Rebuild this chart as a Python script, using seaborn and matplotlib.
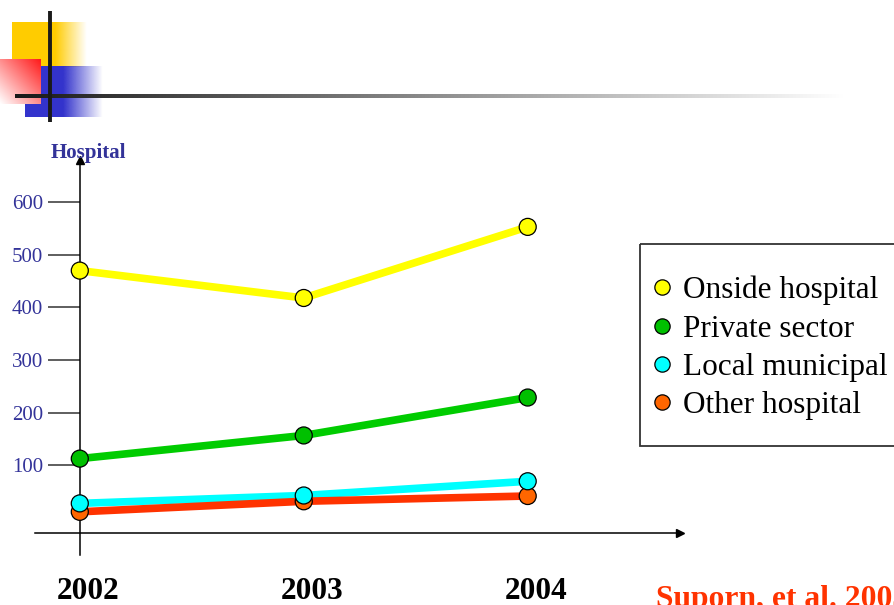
import numpy as np
import pandas as pd
import seaborn as sns
import matplotlib.pyplot as plt
import matplotlib.transforms as mtransforms
from matplotlib.lines import Line2D
from matplotlib.patches import Rectangle
import matplotlib.colors as mcolors

# data
years = [2002, 2003, 2004]
onside = [470, 418, 553]
private = [113, 157, 229]
local = [28, 43, 70]
other = [12, 32, 42]
series = ['Onside hospital', 'Private sector', 'Local municipal', 'Other hospital']
y_ticks = [100, 200, 300, 400, 500, 600]
citation = 'Suporn, et al. 2005'

line_colors = dict(zip(series, ['#FFFF00', '#00CC00', '#00FFFF', '#FF3300']))
dot_colors = dict(zip(series, ['#FFFF00', '#00C000', '#00FFFF', '#FF6600']))

df = pd.DataFrame({
    'year': years * 4,
    'value': onside + private + local + other,
    'series': np.repeat(series, len(years)),
})

sns.set_theme(style='white')
plt.rcParams['font.family'] = ['Liberation Serif', 'DejaVu Serif']

W, H = 895, 605
fig = plt.figure(figsize=(W / 100, H / 100), dpi=100)

# ---- slide header decoration (pixel coordinates) ----
deco = fig.add_axes([0, 0, 1, 1], zorder=0)
deco.patch.set_alpha(0)
deco.axis('off')


def fade_box(x0, x1, y0, y1, color, solid_to, z):
    # solid block then horizontal fade to white
    deco.add_patch(Rectangle((x0, y0), solid_to - x0, y1 - y0, color=color, lw=0, zorder=z))
    img = np.zeros((1, 64, 4))
    img[..., :3] = mcolors.to_rgb(color)
    img[..., 3] = np.linspace(1, 0, 64)
    deco.imshow(img, extent=(solid_to, x1, y1, y0), aspect='auto',
                interpolation='bilinear', zorder=z)


fade_box(12, 87, 22, 67, '#FFCC00', 55, 1)
fade_box(25, 103, 66, 117, '#3333CC', 63, 2)

# red square, red at top-right to white at bottom-left
u = np.linspace(0, 1, 60)[None, :]
v = np.linspace(0, 1, 60)[:, None]
t = (u + 1 - v) / 2
red = np.array(mcolors.to_rgb('#FF1A1A'))
img = (1 - t)[..., None] * np.ones(3) + t[..., None] * red
deco.imshow(img, extent=(0, 41, 104, 59), aspect='auto', interpolation='bilinear', zorder=3)

# long horizontal rule fading out
g = np.linspace(0.1, 1.0, 200)
rule = np.stack([g, g, g], axis=-1)[None, ...]
deco.imshow(rule, extent=(15, 845, 98, 94), aspect='auto', interpolation='bilinear', zorder=4)
deco.plot([50, 50], [11, 122], color='#1a1a1a', lw=2.8, solid_capstyle='butt', zorder=5)

# legend frame (runs off the right edge)
deco.add_patch(Rectangle((640, 244), 280, 202, fill=False, edgecolor='#333333', lw=1.3))
deco.set_xlim(0, W)
deco.set_ylim(H, 0)

# ---- chart ----
ax = fig.add_axes([35 / W, 1 - 555 / H, 645 / W, 395 / H], zorder=1)
ax.patch.set_alpha(0)

sns.lineplot(data=df, x='year', y='value', hue='series', palette=line_colors,
             linewidth=5.5, errorbar=None, legend=False, ax=ax, zorder=2,
             solid_capstyle='butt')
sns.scatterplot(data=df.iloc[::-1], x='year', y='value', hue='series',
                palette=dot_colors, s=150, edgecolor='black', linewidth=0.9,
                legend=False, ax=ax, zorder=3)

ax.set_xlim(2001.8, 2004.68)
ax.set_ylim(-70, 680)
ax.set_xlabel('')
ax.set_ylabel('')

for side in ['top', 'right']:
    ax.spines[side].set_visible(False)
ax.spines['left'].set_position(('data', 2002))
ax.spines['bottom'].set_position(('data', -28))
for side in ['left', 'bottom']:
    ax.spines[side].set_color('black')
    ax.spines[side].set_linewidth(1.1)

# arrow heads
ax.plot([2002], [1], marker='^', color='black', markersize=6,
        transform=ax.get_xaxis_transform(), clip_on=False)
ax.plot([1], [-28], marker='>', color='black', markersize=6,
        transform=ax.get_yaxis_transform(), clip_on=False)

ax.set_yticks(y_ticks)
ax.set_yticklabels([str(v) for v in y_ticks])
ax.tick_params(axis='y', direction='out', length=23, width=1.1, color='#333333',
               labelcolor='#333399', labelsize=15, pad=3.5, left=True)
ax.set_xticks(years)
ax.set_xticklabels([str(y) for y in years], fontweight='bold')
ax.tick_params(axis='x', length=0, labelsize=22.5, pad=31.5, labelcolor='black')
# year labels sit a little right of the points on the slide
shift = mtransforms.ScaledTranslation(8 / 100, 0, fig.dpi_scale_trans)
for lab in ax.get_xticklabels():
    lab.set_transform(lab.get_transform() + shift)

fig.text(88 / W, 1 - 153 / H, 'Hospital', ha='center', va='center',
         fontsize=15, fontweight='bold', color='#333399')
fig.text(656 / W, -0.003, citation, ha='left', va='baseline',
         fontsize=22.8, fontweight='bold', color='#FF3300')

handles = [Line2D([], [], ls='', marker='o', markersize=11,
                  markerfacecolor=dot_colors[s], markeredgecolor='black',
                  markeredgewidth=0.9) for s in series]
fig.legend(handles, series, loc='center left',
           bbox_to_anchor=(653 / W, 1 - 348 / H), frameon=False,
           fontsize=22.5, handlelength=0.6, handletextpad=0.35,
           labelspacing=0.3, borderpad=0, borderaxespad=0, labelcolor='black')

fig.savefig('out.png', dpi=100)
